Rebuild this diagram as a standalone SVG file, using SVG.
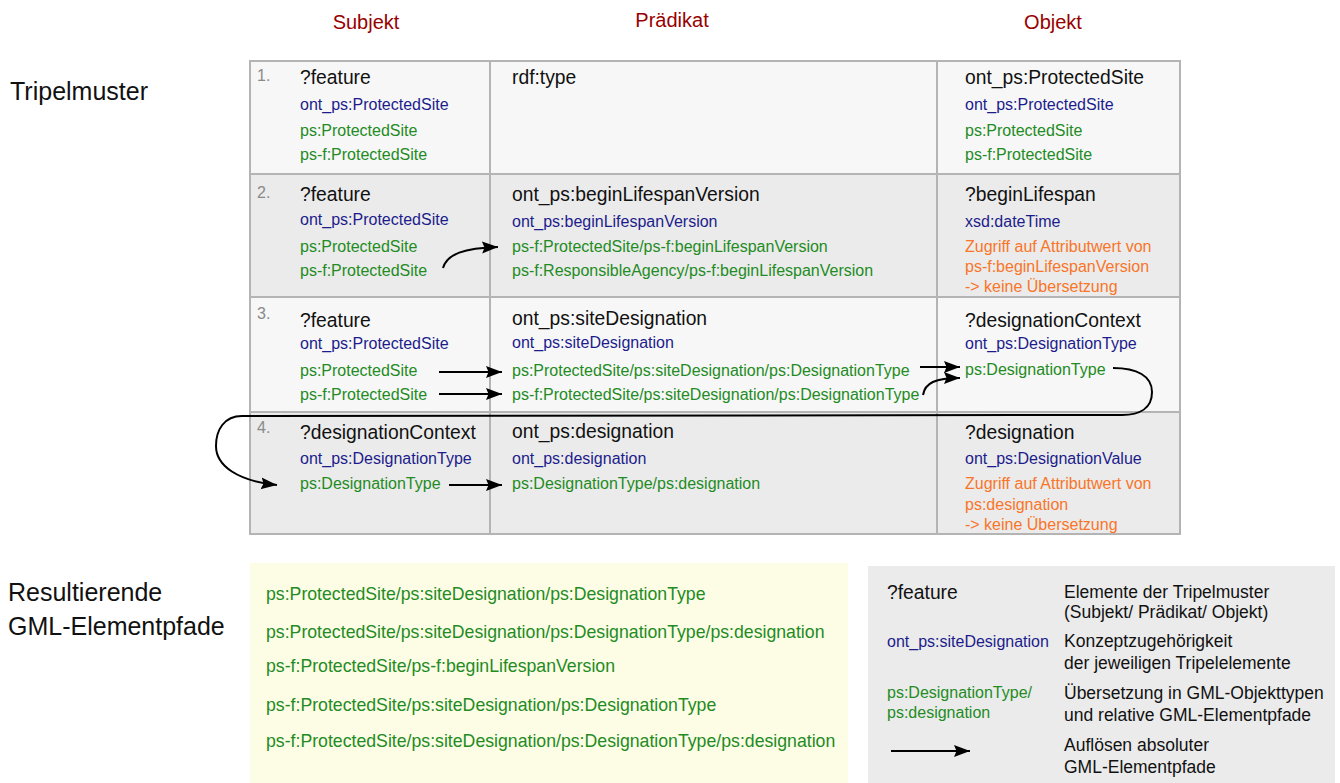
<svg xmlns="http://www.w3.org/2000/svg" width="1340" height="783" viewBox="0 0 1340 783">
  <style>
    text { font-family: "Liberation Sans", Arial, sans-serif; }
    .hdr { font-size: 20px; fill: #990000; text-anchor: middle; }
    .side { font-size: 25px; fill: #111; }
    .num { font-size: 16px; fill: #8a8a8a; }
    .term { font-size: 19.3px; fill: #111; }
    .cls { font-size: 16px; fill: #1c1c8c; }
    .gml { font-size: 16px; fill: #238b23; }
    .note { font-size: 16px; fill: #f97528; }
    .path { font-size: 17.7px; fill: #238b23; }
    .legend { font-size: 17.5px; fill: #111; }
    .grid { stroke: #b4b4b4; stroke-width: 2; fill: none; }
    .conn { stroke: #000; stroke-width: 2; fill: none; marker-end: url(#arrow); }
  </style>
  <defs>
    <marker id="arrow" markerUnits="userSpaceOnUse" markerWidth="18" markerHeight="14" refX="16" refY="7" orient="auto">
      <path d="M0,1 L16,7 L0,13 L2.5,7 Z" fill="#000"/>
    </marker>
  </defs>

  <rect width="1340" height="783" fill="#fff"/>

  <!-- column headings -->
  <g id="headings">
    <text class="hdr" x="366" y="29">Subjekt</text>
    <text class="hdr" x="672" y="27">Prädikat</text>
    <text class="hdr" x="1053" y="29">Objekt</text>
  </g>

  <!-- section labels -->
  <g id="labels">
    <text class="side" x="10" y="100">Tripelmuster</text>
    <text class="side" x="8" y="601">Resultierende</text>
    <text class="side" x="8" y="635">GML-Elementpfade</text>
  </g>

  <!-- triple pattern table -->
  <g id="table">
    <rect x="250" y="61" width="930" height="113" fill="#f7f7f7"/>
    <rect x="250" y="174" width="930" height="123" fill="#ebebeb"/>
    <rect x="250" y="297" width="930" height="115" fill="#f7f7f7"/>
    <rect x="250" y="412" width="930" height="122" fill="#ebebeb"/>
    <rect class="grid" x="250" y="61" width="930" height="473"/>
    <line class="grid" x1="250" y1="174" x2="1180" y2="174"/>
    <line class="grid" x1="250" y1="297" x2="1180" y2="297"/>
    <line class="grid" x1="250" y1="412" x2="1180" y2="412"/>
    <line class="grid" x1="490" y1="61" x2="490" y2="534"/>
    <line class="grid" x1="937" y1="61" x2="937" y2="534"/>
  </g>

  <!-- pattern 1 -->
  <g id="row1">
    <text class="num" x="257" y="81">1.</text>
    <text class="term" x="300" y="84">?feature</text>
    <text class="cls" x="300" y="110">ont_ps:ProtectedSite</text>
    <text class="gml" x="300" y="136">ps:ProtectedSite</text>
    <text class="gml" x="300" y="160">ps-f:ProtectedSite</text>
    <text class="term" x="512" y="84">rdf:type</text>
    <text class="term" x="965" y="84">ont_ps:ProtectedSite</text>
    <text class="cls" x="965" y="110">ont_ps:ProtectedSite</text>
    <text class="gml" x="965" y="136">ps:ProtectedSite</text>
    <text class="gml" x="965" y="160">ps-f:ProtectedSite</text>
  </g>

  <!-- pattern 2 -->
  <g id="row2">
    <text class="num" x="257" y="198">2.</text>
    <text class="term" x="300" y="201">?feature</text>
    <text class="cls" x="300" y="225">ont_ps:ProtectedSite</text>
    <text class="gml" x="300" y="252">ps:ProtectedSite</text>
    <text class="gml" x="300" y="276">ps-f:ProtectedSite</text>
    <text class="term" x="512" y="201">ont_ps:beginLifespanVersion</text>
    <text class="cls" x="512" y="227">ont_ps:beginLifespanVersion</text>
    <text class="gml" x="512" y="252">ps-f:ProtectedSite/ps-f:beginLifespanVersion</text>
    <text class="gml" x="512" y="276">ps-f:ResponsibleAgency/ps-f:beginLifespanVersion</text>
    <text class="term" x="965" y="201">?beginLifespan</text>
    <text class="cls" x="965" y="227">xsd:dateTime</text>
    <text class="note" x="965" y="252">Zugriff auf Attributwert von</text>
    <text class="note" x="965" y="272">ps-f:beginLifespanVersion</text>
    <text class="note" x="965" y="292">-&gt; keine Übersetzung</text>
  </g>

  <!-- pattern 3 -->
  <g id="row3">
    <text class="num" x="257" y="319">3.</text>
    <text class="term" x="300" y="327">?feature</text>
    <text class="cls" x="300" y="349">ont_ps:ProtectedSite</text>
    <text class="gml" x="300" y="376">ps:ProtectedSite</text>
    <text class="gml" x="300" y="400">ps-f:ProtectedSite</text>
    <text class="term" x="512" y="325">ont_ps:siteDesignation</text>
    <text class="cls" x="512" y="348">ont_ps:siteDesignation</text>
    <text class="gml" x="512" y="376">ps:ProtectedSite/ps:siteDesignation/ps:DesignationType</text>
    <text class="gml" x="512" y="400">ps-f:ProtectedSite/ps:siteDesignation/ps:DesignationType</text>
    <text class="term" x="965" y="327">?designationContext</text>
    <text class="cls" x="965" y="349">ont_ps:DesignationType</text>
    <text class="gml" x="965" y="375">ps:DesignationType</text>
  </g>

  <!-- pattern 4 -->
  <g id="row4">
    <text class="num" x="257" y="433">4.</text>
    <text class="term" x="300" y="439">?designationContext</text>
    <text class="cls" x="300" y="464">ont_ps:DesignationType</text>
    <text class="gml" x="300" y="489">ps:DesignationType</text>
    <text class="term" x="512" y="438">ont_ps:designation</text>
    <text class="cls" x="512" y="464">ont_ps:designation</text>
    <text class="gml" x="512" y="489">ps:DesignationType/ps:designation</text>
    <text class="term" x="965" y="439">?designation</text>
    <text class="cls" x="965" y="464">ont_ps:DesignationValue</text>
    <text class="note" x="965" y="489">Zugriff auf Attributwert von</text>
    <text class="note" x="965" y="510">ps:designation</text>
    <text class="note" x="965" y="530">-&gt; keine Übersetzung</text>
  </g>

  <!-- path resolution arrows -->
  <g id="connectors">
    <path class="conn" d="M443,268 C447,254 464,248 498,247"/>
    <path class="conn" d="M439,372 L502,372"/>
    <path class="conn" d="M439,394 L502,394"/>
    <path class="conn" d="M920,367 L960,367"/>
    <path class="conn" d="M923,395 C925,383 935,378 960,378"/>
    <path class="conn" d="M1113,368 C1137,368 1152,376 1152,392 C1152,408 1140,415 1122,415 L242,416 C224,416 216,430 216,446 C216,466 238,481 277,485"/>
    <path class="conn" d="M449,485 L502,485"/>
  </g>

  <!-- resulting GML element paths -->
  <g id="results">
    <rect x="250" y="563" width="598" height="220" fill="#fdfde6"/>
    <text class="path" x="266" y="600">ps:ProtectedSite/ps:siteDesignation/ps:DesignationType</text>
    <text class="path" x="266" y="638">ps:ProtectedSite/ps:siteDesignation/ps:DesignationType/ps:designation</text>
    <text class="path" x="266" y="672">ps-f:ProtectedSite/ps-f:beginLifespanVersion</text>
    <text class="path" x="266" y="711">ps-f:ProtectedSite/ps:siteDesignation/ps:DesignationType</text>
    <text class="path" x="266" y="747">ps-f:ProtectedSite/ps:siteDesignation/ps:DesignationType/ps:designation</text>
  </g>

  <!-- legend -->
  <g id="legend">
    <rect x="868" y="566" width="467" height="217" fill="#ebebeb"/>
    <text class="term" x="887" y="599">?feature</text>
    <text class="legend" x="1064" y="598">Elemente der Tripelmuster</text>
    <text class="legend" x="1064" y="618">(Subjekt/ Prädikat/ Objekt)</text>
    <text class="cls" x="887" y="647">ont_ps:siteDesignation</text>
    <text class="legend" x="1064" y="647">Konzeptzugehörigkeit</text>
    <text class="legend" x="1064" y="669">der jeweiligen Tripelelemente</text>
    <text class="gml" x="887" y="698">ps:DesignationType/</text>
    <text class="gml" x="887" y="718">ps:designation</text>
    <text class="legend" x="1064" y="699">Übersetzung in GML-Objekttypen</text>
    <text class="legend" x="1064" y="721">und relative GML-Elementpfade</text>
    <path class="conn" d="M891,751 L970,751"/>
    <text class="legend" x="1064" y="751">Auflösen absoluter</text>
    <text class="legend" x="1064" y="773">GML-Elementpfade</text>
  </g>
</svg>
